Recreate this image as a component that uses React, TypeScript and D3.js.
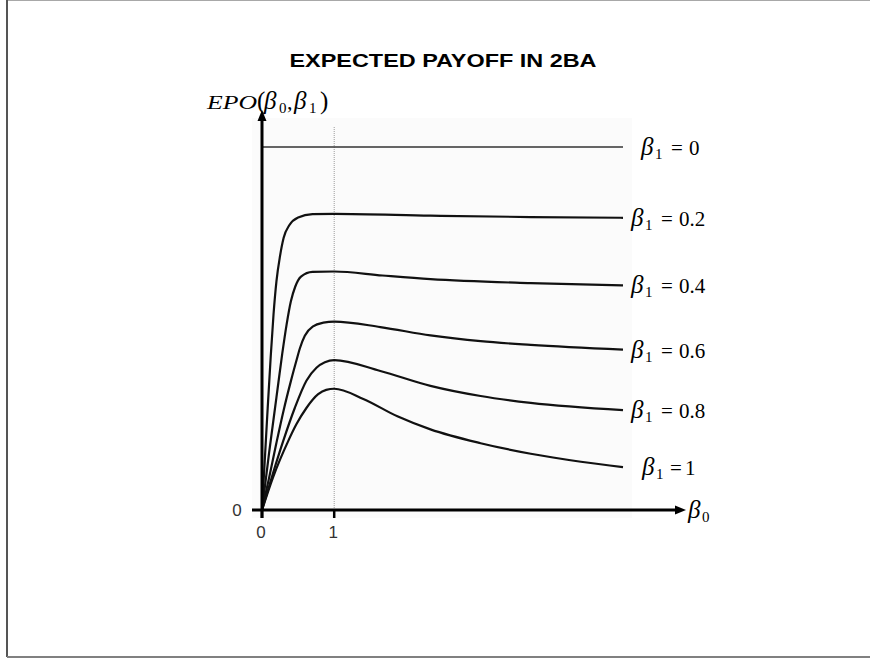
import React from "react";
import * as d3 from "d3";

// beta1 labels
const seriesLabels = ["0", "0.2", "0.4", "0.6", "0.8", "1"];

// [beta0, EPO] pairs
const curveB0: [number, number][] = [[0, 1], [5, 1]];
const curveB02: [number, number][] = [
  [0, 0], [0.07, 0.25], [0.12, 0.42], [0.16, 0.54], [0.2, 0.63], [0.25, 0.7], [0.3, 0.75],
  [0.38, 0.785], [0.5, 0.806], [0.7, 0.815], [1, 0.816], [2.333, 0.811], [3.722, 0.807], [5, 0.805],
];
const curveB04: [number, number][] = [
  [0, 0], [0.1, 0.16], [0.2, 0.31], [0.28, 0.43], [0.34, 0.51], [0.4, 0.575], [0.46, 0.615],
  [0.54, 0.643], [0.7, 0.656], [1, 0.657], [1.667, 0.646], [2.333, 0.636], [3.722, 0.625], [5, 0.619],
];
const curveB06: [number, number][] = [
  [0, 0], [0.1, 0.09], [0.2, 0.185], [0.3, 0.275], [0.4, 0.355], [0.476, 0.411], [0.524, 0.445],
  [0.593, 0.48], [0.708, 0.506], [0.85, 0.516], [1, 0.519], [1.639, 0.504], [2.333, 0.481],
  [3.028, 0.465], [3.722, 0.455], [5, 0.442],
];
const curveB08: [number, number][] = [
  [0, 0], [0.15, 0.1], [0.292, 0.189], [0.454, 0.281], [0.615, 0.356], [0.754, 0.392],
  [0.871, 0.407], [1, 0.413], [1.639, 0.383], [2.333, 0.342], [3.028, 0.314], [3.722, 0.295], [5, 0.275],
];
const curveB1: [number, number][] = [
  [0, 0], [0.153, 0.09], [0.361, 0.189], [0.476, 0.236], [0.615, 0.281], [0.778, 0.319],
  [0.889, 0.331], [1, 0.334], [1.403, 0.306], [1.875, 0.258], [2.333, 0.222], [3.028, 0.184],
  [3.722, 0.155], [4.417, 0.133], [5, 0.118],
];
const allCurves = [curveB0, curveB02, curveB04, curveB06, curveB08, curveB1];
const xTicks = [0, 1];

export default function App() {
  const W = 870, H = 659;
  const x = d3.scaleLinear().domain([0, 5]).range([262, 623]);
  const y = d3.scaleLinear().domain([0, 1]).range([510, 147]);
  const line = d3
    .line<[number, number]>()
    .x((d) => x(d[0]))
    .y((d) => y(d[1]))
    .curve(d3.curveMonotoneX);

  const x0 = x(0), y0 = y(0);
  const yTip = 110, xTip = 686;
  const serif = "'Liberation Serif', 'Times New Roman', serif";
  const sans = "'Liberation Sans', Arial, sans-serif";

  const labelX = [641, 631, 631, 631, 631, 642];

  return (
    <svg width={W} height={H} style={{ position: "absolute", left: 0, top: 0, background: "#fff" }}>
      {/* frame */}
      <line x1={7} y1={0.5} x2={W} y2={0.5} stroke="#a8a8a8" strokeWidth={1} />
      <line x1={7} y1={0} x2={7} y2={657} stroke="#555" strokeWidth={2} />
      <line x1={7} y1={657} x2={W} y2={657} stroke="#808080" strokeWidth={2} />

      {/* plot background */}
      <rect x={252} y={118} width={380} height={400} fill="#fbfbfb" />

      {/* title */}
      <text x={443} y={67} textAnchor="middle" fontFamily={sans} fontWeight="bold" fontSize={18}
        textLength={307} lengthAdjust="spacingAndGlyphs" fill="#000">
        EXPECTED PAYOFF IN 2BA
      </text>

      {/* dotted line at beta0 = 1 */}
      <line x1={x(1)} y1={127} x2={x(1)} y2={y0} stroke="#9a9a9a" strokeWidth={1} strokeDasharray="1,1" />

      {/* curves */}
      {allCurves.map((c, i) => (
        <path key={i} d={line(c) || ""} fill="none"
          stroke={i === 0 ? "#333" : "#111"} strokeWidth={i === 0 ? 1.6 : 2.2} />
      ))}

      {/* axes */}
      <line x1={x0} y1={518} x2={x0} y2={yTip + 9} stroke="#000" strokeWidth={3} />
      <path d={`M${x0},${yTip} L${x0 - 4.5},${yTip + 11} L${x0 + 4.5},${yTip + 11} Z`} fill="#000" />
      <line x1={252} y1={y0} x2={xTip - 9} y2={y0} stroke="#000" strokeWidth={3} />
      <path d={`M${xTip},${y0} L${xTip - 11},${y0 - 4.5} L${xTip - 11},${y0 + 4.5} Z`} fill="#000" />

      {/* ticks */}
      {xTicks.map((t) => (
        <g key={t}>
          <line x1={x(t)} y1={y0} x2={x(t)} y2={518} stroke="#000" strokeWidth={2.5} />
          <text x={x(t) - 1} y={538} textAnchor="middle" fontFamily={sans} fontSize={17} fill="#333">{t}</text>
        </g>
      ))}
      <text x={237} y={516} textAnchor="middle" fontFamily={sans} fontSize={17} fill="#333">0</text>

      {/* axis labels */}
      <text y={109} fontFamily={serif} fill="#000">
        <tspan x={207} fontSize={19} fontStyle="italic" textLength={50} lengthAdjust="spacingAndGlyphs">EPO</tspan>
        <tspan x={257} fontSize={25}>(</tspan>
        <tspan x={264} fontSize={25} fontStyle="italic">β</tspan>
        <tspan x={279} dy={4} fontSize={15}>0</tspan>
        <tspan x={287} dy={-4} fontSize={22}>,</tspan>
        <tspan x={294} fontSize={25} fontStyle="italic">β</tspan>
        <tspan x={309} dy={4} fontSize={15}>1</tspan>
        <tspan x={320} dy={-4} fontSize={25}>)</tspan>
      </text>
      <text y={y0 + 8} fontFamily={serif} fill="#000">
        <tspan x={688} fontSize={25} fontStyle="italic">β</tspan>
        <tspan x={702} dy={4} fontSize={15}>0</tspan>
      </text>

      {/* series labels */}
      {allCurves.map((c, i) => {
        const last = c[c.length - 1];
        const by = y(last[1]) + 8;
        const lx = labelX[i];
        const last1 = seriesLabels[i] === "1";
        return (
          <text key={i} y={by} fontFamily={serif} fill="#000">
            <tspan x={lx} fontSize={25} fontStyle="italic">β</tspan>
            <tspan x={lx + 14} dy={4} fontSize={15}>1</tspan>
            <tspan x={lx + (last1 ? 28 : 30)} dy={-4} fontSize={21}>=</tspan>
            <tspan x={lx + (last1 ? 43 : 48)} fontSize={21}>{seriesLabels[i]}</tspan>
          </text>
        );
      })}
    </svg>
  );
}
